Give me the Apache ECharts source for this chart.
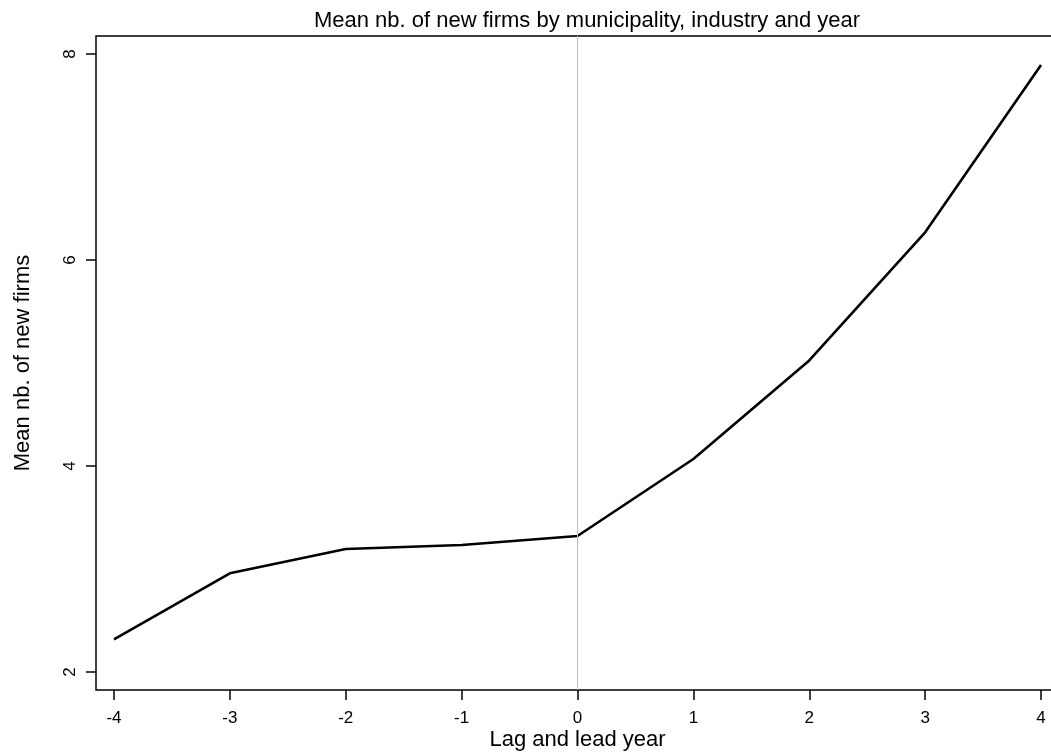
<!DOCTYPE html>
<html>
<head>
<meta charset="utf-8">
<script src="https://cdn.jsdelivr.net/npm/echarts@6/dist/echarts.min.js"></script>
<style>
html,body{margin:0;padding:0;background:#fff;}
#chart{width:1051px;height:756px;}
</style>
</head>
<body>
<div id="chart"></div>
<script>
var years = [-4, -3, -2, -1, 0, 1, 2, 3, 4];
var meanNewFirms = [2.317, 2.958, 3.194, 3.233, 3.320, 4.068, 5.025, 6.269, 7.893];
var xTicks = [-4, -3, -2, -1, 0, 1, 2, 3, 4];
var yTicks = [2, 4, 6, 8];

var FONT = '"Liberation Sans", Arial, Helvetica, sans-serif';
var chart = echarts.init(document.getElementById('chart'), null, {renderer: 'canvas'});

var data = years.map(function (x, i) { return [x, meanNewFirms[i]]; });

chart.setOption({
  animation: false,
  backgroundColor: '#fff',
  title: {
    text: 'Mean nb. of new firms by municipality, industry and year',
    left: 582, top: 5, textAlign: 'center',
    textStyle: {fontFamily: FONT, fontSize: 22, fontWeight: 'normal', color: '#000'}
  },
  grid: {
    left: 96, top: 36, width: 963, height: 654,
    outerBoundsMode: 'none', containLabel: false,
    show: true, borderColor: '#000', borderWidth: 1.5, backgroundColor: 'transparent'
  },
  xAxis: {
    type: 'value', min: -4.155, max: 4.155,
    name: 'Lag and lead year', nameLocation: 'middle', nameGap: 39, nameMoveOverlap: false,
    nameTextStyle: {fontFamily: FONT, fontSize: 22, color: '#000'},
    axisLine: {show: false, onZero: false},
    splitLine: {show: false},
    axisTick: {show: true, customValues: xTicks, length: 10, lineStyle: {color: '#000', width: 1.5}},
    axisLabel: {customValues: xTicks, fontFamily: FONT, fontSize: 17, color: '#000', margin: 20}
  },
  yAxis: {
    type: 'value', min: 1.825, max: 8.175,
    name: 'Mean nb. of new firms', nameLocation: 'middle', nameGap: 62, nameRotate: 90, nameMoveOverlap: false,
    nameTextStyle: {fontFamily: FONT, fontSize: 22, color: '#000'},
    axisLine: {show: false, onZero: false},
    splitLine: {show: false},
    axisTick: {show: true, customValues: yTicks, length: 10, lineStyle: {color: '#000', width: 1.5}},
    axisLabel: {customValues: yTicks, rotate: 90, fontFamily: FONT, fontSize: 17, color: '#000', margin: 17}
  },
  series: [{
    type: 'line',
    data: data,
    symbol: 'none',
    lineStyle: {color: '#000', width: 2.6},
    markLine: {
      silent: true, symbol: 'none', label: {show: false},
      lineStyle: {color: '#bebebe', width: 1, type: 'solid'},
      data: [{xAxis: 0}]
    },
    z: 3
  }]
});
</script>
</body>
</html>
